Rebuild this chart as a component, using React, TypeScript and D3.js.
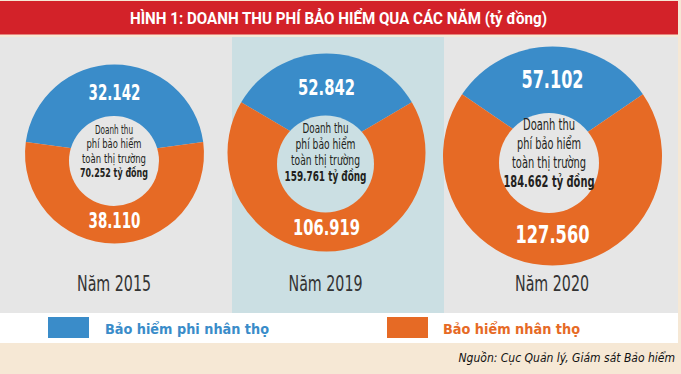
import React from "react";
import * as d3 from "d3";

const years = ["Năm 2015", "Năm 2019", "Năm 2020"];
const nonLife = [32142, 52842, 57102];
const life = [38110, 106919, 127560];
const totals = [70252, 159761, 184662];
const centerLines = ["Doanh thu", "phí bảo hiểm", "toàn thị trường"];
const legendLabels = ["Bảo hiểm phi nhân thọ", "Bảo hiểm nhân thọ"];
const title = "HÌNH 1: DOANH THU PHÍ BẢO HIỂM QUA CÁC NĂM (tỷ đồng)";
const source = "Nguồn: Cục Quản lý, Giám sát Bảo hiểm";

const W = 681;
const H = 374;
const BLUE = "#3a8cc9";
const ORANGE = "#e66a25";
const RED = "#d32229";
const GRAY = "#e6e6e6";
const PANEL = "#cbdfe3";
const BEIGE = "#f6e8d5";
const DARK = "#231f20";

const COND = "'Liberation Sans Narrow', 'DejaVu Sans Condensed', 'Roboto', sans-serif";

// layout (not data)
const layout = [
  { cx: 114.5, cy: 154, r: 89.5, hx: 114, hy: 161, hr: 45, bg: GRAY,
    topY: 100, botY: 228, vfs: 21, topW: 52, botW: 52,
    lineY: 134, lh: 14.3, cfs: 12.5, lineW: [38, 55, 64, 68],
    yearY: 291, yearX: 114 },
  { cx: 326.5, cy: 152.5, r: 99, hx: 325.5, hy: 164, hr: 48.5, bg: PANEL,
    topY: 95, botY: 235, vfs: 22, topW: 57, botW: 67,
    lineY: 133, lh: 16, cfs: 14, lineW: [46, 60, 69, 82],
    yearY: 291, yearX: 325.5 },
  { cx: 552.5, cy: 156, r: 109.5, hx: 549, hy: 163, hr: 50, bg: GRAY,
    topY: 88, botY: 243, vfs: 24, topW: 62, botW: 74,
    lineY: 130, lh: 19, cfs: 16, lineW: [52, 64, 74, 91],
    yearY: 291, yearX: 552 },
];

const locale = d3.formatLocale({ decimal: ",", thousands: ".", grouping: [3], currency: ["", ""] });
const fmt = locale.format(",");

export default function App() {
  const colors = [BLUE, ORANGE];
  return (
    <svg width={W} height={H} viewBox={`0 0 ${W} ${H}`}
      style={{ position: "absolute", left: 0, top: 0, display: "block" }}>
      <rect x={0} y={0} width={W} height={H} fill={BEIGE} />
      <rect x={0} y={1} width={678} height={33.5} fill={RED} />
      <text x={338.5} y={24} textAnchor="middle" fill="#fff" fontFamily="Roboto, 'Open Sans', sans-serif"
        fontWeight={700} fontSize={16} textLength={417} lengthAdjust="spacingAndGlyphs">{title}</text>
      <rect x={0} y={37} width={678} height={276} fill={GRAY} />
      <rect x={232} y={37} width={212} height={276} fill={PANEL} />
      <rect x={0} y={313} width={678} height={30} fill="#ffffff" />

      {years.map((yr, i) => {
        const L = layout[i];
        const vals = [nonLife[i], life[i]];
        const blueAngle = (2 * Math.PI * nonLife[i]) / (nonLife[i] + life[i]);
        const pie = d3.pie<number>().sort(null)
          .startAngle(-blueAngle / 2).endAngle(2 * Math.PI - blueAngle / 2);
        const arcs = pie(vals);
        const arc = d3.arc<d3.PieArcDatum<number>>().innerRadius(0).outerRadius(L.r);
        const lines = [...centerLines, `${fmt(totals[i])} tỷ đồng`];
        return (
          <g key={yr}>
            <g transform={`translate(${L.cx},${L.cy})`}>
              {arcs.map((a, j) => (
                <path key={j} d={arc(a) || ""} fill={colors[j]} />
              ))}
            </g>
            <circle cx={L.hx} cy={L.hy} r={L.hr} fill={L.bg} />
            <text x={L.cx} y={L.topY} textAnchor="middle" fill="#fff" fontFamily={COND}
              fontWeight={700} fontSize={L.vfs} textLength={L.topW} lengthAdjust="spacingAndGlyphs">
              {fmt(nonLife[i])}
            </text>
            <text x={L.cx} y={L.botY} textAnchor="middle" fill="#fff" fontFamily={COND}
              fontWeight={700} fontSize={L.vfs} textLength={L.botW} lengthAdjust="spacingAndGlyphs">
              {fmt(life[i])}
            </text>
            {lines.map((ln, k) => (
              <text key={k} x={L.hx} y={L.lineY + k * L.lh} textAnchor="middle" fill={DARK}
                fontFamily={COND} fontWeight={k === 3 ? 700 : 400} fontSize={L.cfs}
                textLength={L.lineW[k]} lengthAdjust="spacingAndGlyphs">{ln}</text>
            ))}
            <text x={L.yearX} y={L.yearY} textAnchor="middle" fill="#333" fontFamily={COND}
              fontWeight={400} fontSize={21} textLength={74} lengthAdjust="spacingAndGlyphs">{yr}</text>
          </g>
        );
      })}

      <rect x={48} y={317} width={41} height={21} fill={BLUE} />
      <text x={105} y={334} fill={BLUE} fontFamily="'DejaVu Sans', sans-serif" fontWeight={700}
        fontSize={14} textLength={164} lengthAdjust="spacingAndGlyphs">{legendLabels[0]}</text>
      <rect x={387} y={317} width={41} height={21} fill={ORANGE} />
      <text x={443} y={334} fill={ORANGE} fontFamily="'DejaVu Sans', sans-serif" fontWeight={700}
        fontSize={14} textLength={137} lengthAdjust="spacingAndGlyphs">{legendLabels[1]}</text>

      <text x={675} y={362} textAnchor="end" fill="#111" fontFamily={COND} fontStyle="italic"
        fontSize={12}>{source}</text>
    </svg>
  );
}
